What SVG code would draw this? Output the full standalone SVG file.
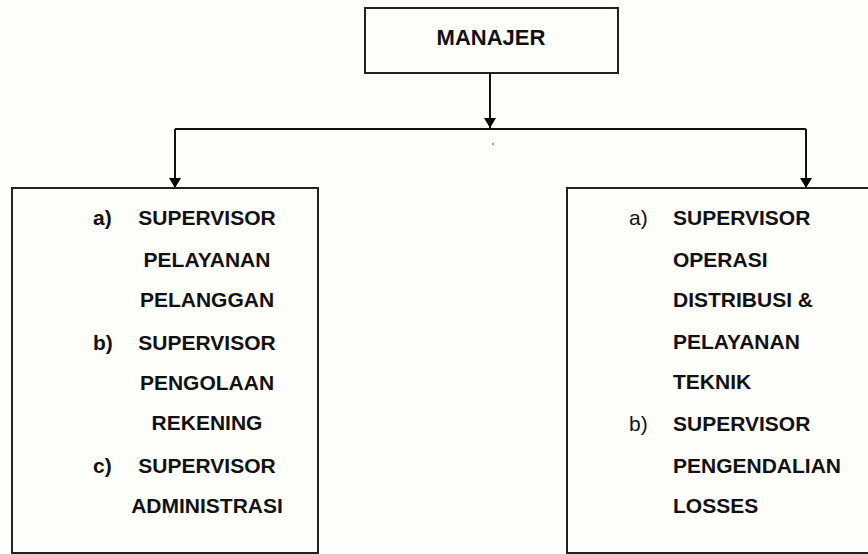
<svg xmlns="http://www.w3.org/2000/svg" width="868" height="554" viewBox="0 0 868 554">
<defs>
<style>
.box{fill:none;stroke:#222;stroke-width:2}
.t{font-family:"Liberation Sans",Arial,sans-serif;font-weight:bold;font-size:21px;fill:#111}
.n{font-weight:normal}
.c{text-anchor:middle}
.con{fill:none;stroke:#111;stroke-width:2}
</style>
<marker id="arr" markerWidth="10" markerHeight="12" refX="10" refY="6" orient="auto" markerUnits="userSpaceOnUse">
<path d="M0,0 L10,6 L0,12 Z" fill="#000"/>
</marker>
</defs>
<rect x="0" y="0" width="868" height="554" fill="#fefefb"/>
<g id="manajer">
<rect class="box" x="365" y="8" width="253" height="65"/>
<text class="t c" x="491" y="45" style="font-size:22px">MANAJER</text>
</g>
<g id="connectors">
<path class="con" d="M490,73 V128" marker-end="url(#arr)"/>
<path class="con" d="M175,129 H806"/>
<path class="con" d="M175,129 V188" marker-end="url(#arr)"/>
<path class="con" d="M806,129 V188" marker-end="url(#arr)"/>
</g>
<rect x="492" y="143" width="2" height="2" fill="#999"/>
<g id="left">
<rect class="box" x="12" y="188" width="306" height="365"/>
<text class="t" x="93" y="225">a)</text>
<text class="t c" x="207" y="225">SUPERVISOR</text>
<text class="t c" x="207" y="267">PELAYANAN</text>
<text class="t c" x="207" y="307">PELANGGAN</text>
<text class="t" x="93" y="350">b)</text>
<text class="t c" x="207" y="350">SUPERVISOR</text>
<text class="t c" x="207" y="390">PENGOLAAN</text>
<text class="t c" x="207" y="430">REKENING</text>
<text class="t" x="93" y="473">c)</text>
<text class="t c" x="207" y="473">SUPERVISOR</text>
<text class="t c" x="207" y="513">ADMINISTRASI</text>
</g>
<g id="right">
<rect class="box" x="567" y="188" width="310" height="365"/>
<text class="t n" x="629" y="225">a)</text>
<text class="t" x="673" y="225">SUPERVISOR</text>
<text class="t" x="673" y="267">OPERASI</text>
<text class="t" x="673" y="307">DISTRIBUSI &amp;</text>
<text class="t" x="673" y="349">PELAYANAN</text>
<text class="t" x="673" y="389">TEKNIK</text>
<text class="t n" x="629" y="431">b)</text>
<text class="t" x="673" y="431">SUPERVISOR</text>
<text class="t" x="673" y="473">PENGENDALIAN</text>
<text class="t" x="673" y="513">LOSSES</text>
</g>
</svg>
